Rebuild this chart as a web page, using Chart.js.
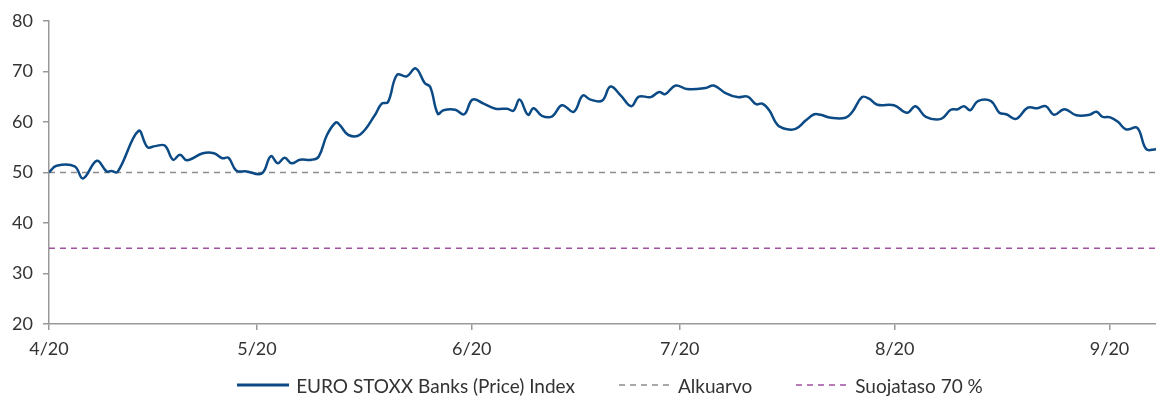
<!DOCTYPE html>
<html>
<head>
<meta charset="utf-8">
<script src="https://cdn.jsdelivr.net/npm/chart.js@4.4.0/dist/chart.umd.min.js"></script>
<style>
    body { margin: 0; background: #fff; }
    #wrap { width: 1156px; height: 400px; position: relative; }
    #legend {
        position: absolute; left: 0; top: 374px; width: 1156px; height: 22px;
        box-sizing: border-box; padding-left: 64px;
        display: flex; justify-content: center; align-items: center;
        font-family: Lato, "Open Sans", sans-serif; font-size: 19px; color: #333;
    }
    #legend .item { display: flex; align-items: center; margin: 0 22px; white-space: nowrap; }
    #legend svg { margin-right: 7px; }
</style>
</head>
<body>
<div id="wrap">
    <canvas id="chart"></canvas>
    <div id="legend"></div>
</div>
<script>
// days since start of April 2020 and index level
const days = [0, 1.1, 3.7, 4.9, 6.9, 8.3, 9, 9.9, 12.9, 14.2, 15.3, 16.7, 17.9, 18.9, 19.9,
    22.2, 23.8, 25, 25.9, 27, 28.5, 30.7, 32, 33, 34, 35, 36.2, 37.9, 38.9, 40.1, 41.4, 42, 43.2, 44.9,
    47, 48, 48.9, 50.2, 51.6, 52.9, 54.2, 55, 56.1, 56.9, 58.6, 59.9, 61.1, 62.7, 64.4, 66.1, 67, 67.9,
    69.1, 69.9, 71.1, 72.6, 74, 75.7, 77, 78.1, 79.8, 81, 82.5, 84, 85.1, 86.8, 88, 88.9, 90.4, 92, 94.7,
    95.9, 97.6, 99.3, 100.8, 102, 102.9, 103.9, 105.1, 106.3, 107.7, 109.2, 110.4, 111.3, 112.8, 114.9,
    115.9, 117.3, 118.3, 119.5, 121.9, 123.8, 125, 126.5, 128.7, 130.1, 131.1, 132, 132.9, 134, 135.9,
    137.1, 138.1, 139.5, 141.2, 142.6, 143.8, 145, 146.5, 148.2, 150.1, 151.1, 152, 153.1, 154.2, 155.4,
    157, 158.3, 159.7];
const indexValues = [50, 51.3, 51.2, 48.8, 52.3, 50.2, 50.3, 50.1, 58.2, 55, 55.2, 55.3, 52.5, 53.5, 52.4,
    53.8, 53.8, 52.8, 52.9, 50.4, 50.2, 49.8, 53.2, 51.8, 52.9, 51.8, 52.5, 52.5, 53.1, 57.4, 59.9, 59.3, 57.4, 57.5,
    61.3, 63.6, 63.9, 69.3, 69, 70.6, 67.7, 66.9, 61.6, 62.3, 62.4, 61.5, 64.4, 63.6, 62.6, 62.6, 62.2, 64.4,
    61.4, 62.7, 61.2, 61.1, 63.3, 62, 65.2, 64.4, 64.2, 67, 65.2, 63.1, 65, 64.9, 65.9, 65.5, 67.2, 66.5, 66.7,
    67.2, 65.7, 64.9, 65, 63.5, 63.6, 62.3, 59.4, 58.6, 58.6, 60.3, 61.5, 61.4, 60.8, 60.8,
    62, 64.9, 64.6, 63.4, 63.3, 61.8, 63.1, 61, 60.6, 62.4, 62.5, 63.1, 62.3, 64.1, 64.1,
    61.8, 61.5, 60.6, 62.8, 62.7, 63.1, 61.4, 62.5, 61.3, 61.4, 62, 61, 60.9, 60, 58.5,
    58.8, 54.6, 54.6];
const startLevel = [50, 50];      // Alkuarvo
const protectLevel = [35, 35];    // Suojataso 70 %
const tickDays = [0, 30, 61, 91, 122, 153];
const tickLabels = ['4/20', '5/20', '6/20', '7/20', '8/20', '9/20'];
const xMax = 159.7;

const axisColor = '#999999';
const textColor = '#333333';
const fontFamily = 'Lato, "Open Sans", sans-serif';

const ctx = document.getElementById('chart').getContext('2d');
const chart = new Chart(ctx, {
    type: 'line',
    data: {
        datasets: [{
            label: 'EURO STOXX Banks (Price) Index',
            data: days.map((d, i) => ({ x: d, y: indexValues[i] })),
            borderColor: '#0b4a85',
            borderWidth: 2.5,
            pointRadius: 0,
            tension: 0.4,
            fill: false
        }, {
            label: 'Alkuarvo',
            data: [{ x: 0, y: startLevel[0] }, { x: xMax, y: startLevel[1] }],
            borderColor: '#8c8c8c',
            borderWidth: 1.5,
            borderDash: [6, 5],
            pointRadius: 0
        }, {
            label: 'Suojataso 70 %',
            data: [{ x: 0, y: protectLevel[0] }, { x: xMax, y: protectLevel[1] }],
            borderColor: '#a052a0',
            borderWidth: 1.5,
            borderDash: [6, 5],
            pointRadius: 0
        }]
    },
    options: {
        responsive: true,
        maintainAspectRatio: false,
        animation: false,
        layout: { padding: { top: 6, right: 0, left: 0, bottom: 38 } },
        plugins: {
            tooltip: { enabled: false },
            legend: { display: false }
        },
        scales: {
            x: {
                type: 'linear',
                min: 0,
                max: xMax,
                afterBuildTicks: function (scale) {
                    scale.ticks = tickDays.map(v => ({ value: v }));
                },
                afterFit: function (scale) { scale.height = 38; },
                ticks: {
                    autoSkip: false,
                    maxRotation: 0,
                    color: textColor,
                    font: { family: fontFamily, size: 18 },
                    padding: 8,
                    callback: function (value) {
                        const i = tickDays.indexOf(value);
                        return i >= 0 ? tickLabels[i] : '';
                    }
                },
                grid: { drawOnChartArea: false, drawTicks: true, tickLength: 6, color: axisColor, lineWidth: 1.5 },
                border: { color: axisColor, width: 1.5 }
            },
            y: {
                min: 20,
                max: 80,
                afterFit: function (scale) { scale.width = 49; },
                ticks: {
                    stepSize: 10,
                    color: textColor,
                    font: { family: fontFamily, size: 18 },
                    padding: 10
                },
                grid: { drawOnChartArea: false, drawTicks: true, tickLength: 6, color: axisColor, lineWidth: 1.5 },
                border: { color: axisColor, width: 1.5 }
            }
        }
    }
});

// HTML legend built from the datasets
const legendBox = document.getElementById('legend');
chart.data.datasets.forEach(function (ds) {
    const item = document.createElement('div');
    item.className = 'item';
    const dash = ds.borderDash ? ds.borderDash.join(' ') : 'none';
    const width = ds.borderDash ? 1.5 : 2.8;
    item.innerHTML = '<svg width="52" height="6"><line x1="0" y1="3" x2="52" y2="3" stroke="' + ds.borderColor +
        '" stroke-width="' + width + '" stroke-dasharray="' + dash + '"/></svg>';
    const label = document.createElement('span');
    label.textContent = ds.label;
    item.appendChild(label);
    legendBox.appendChild(item);
});
</script>
</body>
</html>
